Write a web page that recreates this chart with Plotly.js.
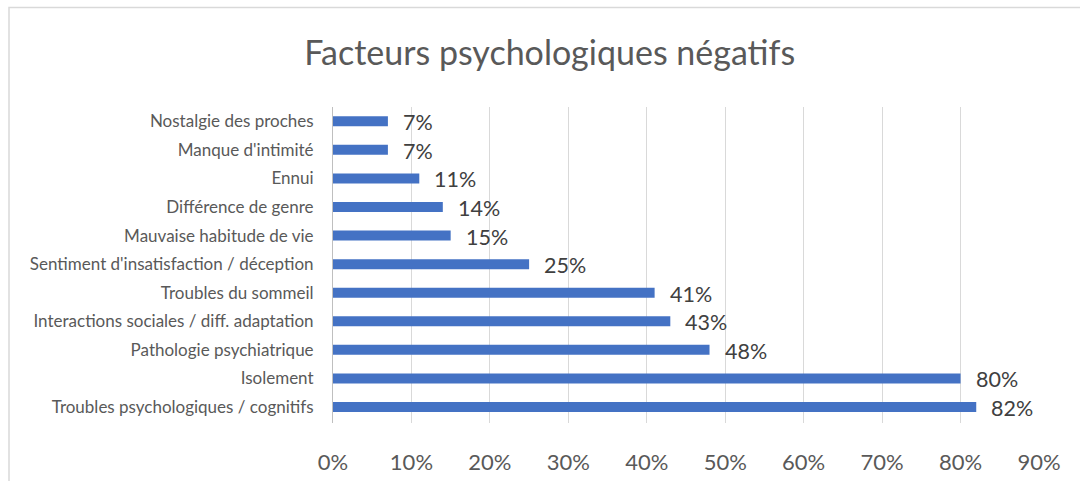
<!DOCTYPE html>
<html>
<head>
<meta charset="utf-8">
<script src="https://cdn.plot.ly/plotly-3.0.1.min.js"></script>
<style>
html,body{margin:0;padding:0;background:#fff;}
#chart{width:1080px;height:481px;}
</style>
</head>
<body>
<div id="chart"></div>
<script>
// Categories listed bottom-to-top
const categories = [
  "Troubles psychologiques / cognitifs",
  "Isolement",
  "Pathologie psychiatrique",
  "Interactions sociales / diff. adaptation",
  "Troubles du sommeil",
  "Sentiment d'insatisfaction / déception",
  "Mauvaise habitude de vie",
  "Différence de genre",
  "Ennui",
  "Manque d'intimité",
  "Nostalgie des proches"
];
const values = [82, 80, 48, 43, 41, 25, 15, 14, 11, 7, 7];
const tickValues = [0, 10, 20, 30, 40, 50, 60, 70, 80, 90];
const tickLabels = ["0%", "10%", "20%", "30%", "40%", "50%", "60%", "70%", "80%", "90%"];
const titleText = "Facteurs psychologiques négatifs";

const FONT = "Lato, 'Open Sans', sans-serif";
const W = 1080, H = 481;
const L = 333, R = 41, T = 107, B = 58;
const pw = W - L - R, ph = H - T - B;

const trace = {
  type: "bar",
  orientation: "h",
  y: categories,
  x: values,
  marker: {color: "#4472c4"},
  hoverinfo: "x+y",
  cliponaxis: false
};

const annotations = values.map((v, i) => ({
  x: v, y: categories[i], xref: "x", yref: "y",
  text: v + "%", showarrow: false,
  xanchor: "left", yanchor: "middle",
  xshift: 13, yshift: -1,
  font: {family: FONT, size: 21.5, color: "#404040"}
}));

const layout = {
  width: W, height: H,
  margin: {l: L, r: R, t: T, b: B, pad: 0},
  paper_bgcolor: "#ffffff",
  plot_bgcolor: "#ffffff",
  showlegend: false,
  bargap: 0.65,
  title: {
    text: titleText,
    font: {family: FONT, size: 34, color: "#595959"},
    x: 0.509, xanchor: "center",
    y: 1 - 53 / H, yanchor: "middle",
    xref: "container", yref: "container"
  },
  xaxis: {
    range: [0, 90],
    tickvals: tickValues,
    ticktext: tickLabels,
    showgrid: true,
    gridcolor: "#d9d9d9",
    gridwidth: 1,
    zeroline: false,
    showline: false,
    ticks: "outside",
    ticklen: 20,
    tickcolor: "rgba(0,0,0,0)",
    tickfont: {family: FONT, size: 22, color: "#595959"},
    fixedrange: true
  },
  yaxis: {
    type: "category",
    showgrid: false,
    zeroline: false,
    showline: true,
    linecolor: "#bfbfbf",
    linewidth: 1,
    ticks: "outside",
    ticklen: 15,
    tickcolor: "rgba(0,0,0,0)",
    tickfont: {family: FONT, size: 17, color: "#595959"},
    fixedrange: true
  },
  annotations: annotations,
  shapes: [{
    type: "rect", xref: "paper", yref: "paper",
    x0: (9 - L) / pw, x1: (1090 - L) / pw,
    y0: (T + ph - 500) / ph, y1: (T + ph - 7.5) / ph,
    line: {color: "#d9d9d9", width: 1.5},
    fillcolor: "rgba(0,0,0,0)",
    layer: "below"
  }]
};

Plotly.newPlot("chart", [trace], layout, {displayModeBar: false, staticPlot: true});
</script>
</body>
</html>
